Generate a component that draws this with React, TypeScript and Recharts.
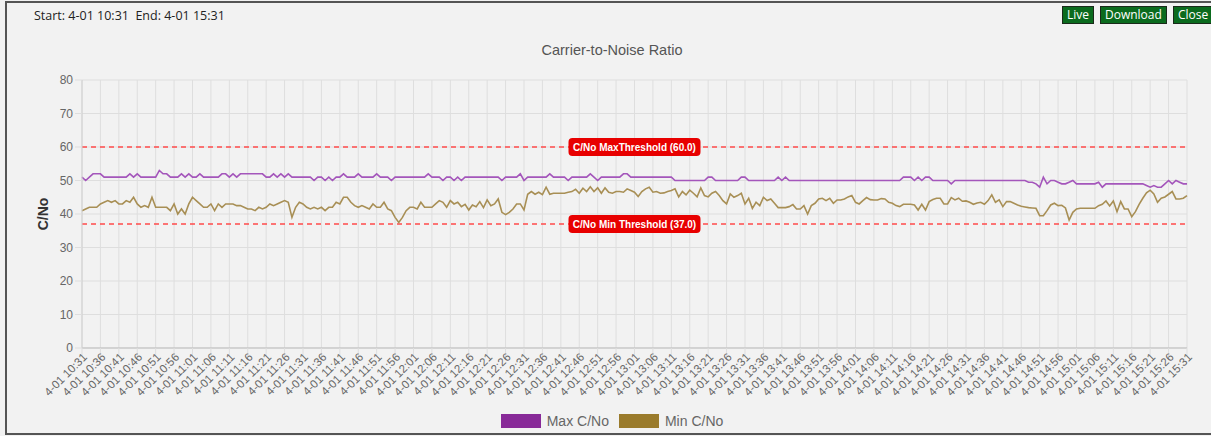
import React from 'react'
import { LineChart, Line, XAxis, YAxis, CartesianGrid, ReferenceLine } from 'recharts'

// one label every 5 minutes, data every minute
const tickLabels = [
  '4-01 10:31', '4-01 10:36', '4-01 10:41', '4-01 10:46', '4-01 10:51', '4-01 10:56',
  '4-01 11:01', '4-01 11:06', '4-01 11:11', '4-01 11:16', '4-01 11:21', '4-01 11:26',
  '4-01 11:31', '4-01 11:36', '4-01 11:41', '4-01 11:46', '4-01 11:51', '4-01 11:56',
  '4-01 12:01', '4-01 12:06', '4-01 12:11', '4-01 12:16', '4-01 12:21', '4-01 12:26',
  '4-01 12:31', '4-01 12:36', '4-01 12:41', '4-01 12:46', '4-01 12:51', '4-01 12:56',
  '4-01 13:01', '4-01 13:06', '4-01 13:11', '4-01 13:16', '4-01 13:21', '4-01 13:26',
  '4-01 13:31', '4-01 13:36', '4-01 13:41', '4-01 13:46', '4-01 13:51', '4-01 13:56',
  '4-01 14:01', '4-01 14:06', '4-01 14:11', '4-01 14:16', '4-01 14:21', '4-01 14:26',
  '4-01 14:31', '4-01 14:36', '4-01 14:41', '4-01 14:46', '4-01 14:51', '4-01 14:56',
  '4-01 15:01', '4-01 15:06', '4-01 15:11', '4-01 15:16', '4-01 15:21', '4-01 15:26',
  '4-01 15:31',
]

const yTicks = [0, 10, 20, 30, 40, 50, 60, 70, 80]

const maxCno = [
  51, 50, 51, 52, 52, 52, 51, 51, 51, 51,
  51, 51, 51, 52, 51, 52, 51, 51, 51, 51,
  51, 53, 52, 52, 51, 51, 51, 52, 51, 52,
  51, 51, 52, 51, 51, 51, 51, 51, 52, 52,
  51, 52, 51, 52, 52, 52, 52, 52, 52, 52,
  51, 51, 52, 51, 52, 51, 52, 51, 51, 51,
  51, 51, 51, 50, 51, 51, 50, 51, 50, 51,
  51, 52, 51, 51, 51, 52, 51, 51, 51, 51,
  52, 51, 51, 51, 50, 51, 51, 51, 51, 51,
  51, 51, 51, 51, 52, 51, 51, 51, 50, 51,
  51, 50, 51, 50, 51, 51, 51, 51, 51, 51,
  51, 51, 51, 51, 50, 51, 51, 51, 51, 52,
  50, 51, 51, 51, 51, 51, 51, 52, 51, 51,
  51, 51, 50, 51, 51, 51, 51, 51, 52, 51,
  50, 51, 51, 51, 51, 51, 51, 52, 52, 51,
  51, 51, 51, 51, 51, 51, 51, 51, 51, 51,
  51, 50, 50, 50, 50, 50, 50, 50, 50, 50,
  51, 51, 50, 50, 50, 50, 50, 50, 50, 51,
  51, 50, 50, 50, 50, 50, 50, 50, 50, 51,
  50, 51, 50, 50, 50, 50, 50, 50, 50, 50,
  50, 50, 50, 50, 50, 50, 50, 50, 50, 50,
  50, 50, 50, 50, 50, 50, 50, 50, 50, 50,
  50, 50, 50, 51, 51, 51, 50, 51, 50, 51,
  51, 50, 50, 50, 50, 50, 49, 50, 50, 50,
  50, 50, 50, 50, 50, 50, 50, 50, 50, 50,
  50, 50, 50, 50, 50, 50, 50, 49.5, 49.5, 49,
  48, 51, 49, 50, 50, 49.5, 49, 49, 49.5, 50,
  49, 49, 49, 49, 49, 49, 49.5, 48, 49, 49,
  49, 49, 49, 49, 49, 49, 49, 49, 49, 48.5,
  48, 48.5, 48, 48, 49, 50, 49, 50, 49.5, 49,
  49,
]

const minCno = [
  41, 41.5, 42, 42, 42, 43, 43.5, 44, 43.5, 44,
  43, 43, 44, 43.5, 45, 43, 42, 42.5, 42, 45,
  42, 42, 42, 42, 41, 43, 40, 41.5, 40, 43,
  45, 44, 43, 42, 42, 43, 41, 43, 42, 43,
  43, 43, 42.5, 42.5, 42, 41.5, 41.5, 41, 42, 41.5,
  42, 43, 42.5, 43, 43.5, 44, 43.5, 39, 42, 43.5,
  43, 42, 41.5, 42, 41.5, 42, 41, 42, 42, 43.5,
  43, 45, 45, 43.5, 42.5, 42, 42.5, 42, 41.5, 43,
  42, 42, 43.5, 41.5, 41, 39, 37.5, 39, 41, 42,
  42, 41.5, 43.5, 42, 42, 42, 43, 44, 43.5, 42,
  44, 43, 43.5, 42.2, 42.9, 41.2, 42.7, 42.2, 43.7, 41.9,
  44.2, 42.5, 43, 44.5, 40.5, 39.8, 40.5, 41.5, 43, 43,
  41.2, 45.9, 46.7, 45.9, 46.5, 45.8, 48, 45.9, 46.2, 46.2,
  46.2, 46.2, 46.5, 46.7, 47.4, 46.2, 47.7, 46.7, 48.1, 46.7,
  47.8, 46.2, 47.8, 46.5, 46.2, 46.7, 46.7, 46.5, 47.5, 47,
  46.5, 45.2, 46.7, 47.5, 48, 46.5, 46.7, 46.2, 46.3, 46.7,
  47, 47.5, 45.1, 46.7, 45.7, 47.1, 46.2, 45.1, 47.8, 45.5,
  45.1, 46.2, 46.7, 45.5, 44, 43, 46, 45, 45.5, 46.2,
  43, 44.7, 41.7, 43.5, 42.5, 45, 44, 44.5, 43.2, 41.9,
  41.9, 41.9, 42.2, 42.8, 41.5, 41.5, 42.5, 40, 42.5, 43.2,
  44.5, 44.7, 44, 44.7, 43.2, 44.2, 44.2, 44.5, 45.1, 45.5,
  43.5, 43, 44, 44.9, 44.3, 44.2, 44.2, 44.6, 44.5, 43.5,
  43.2, 42.5, 42.2, 42.9, 42.9, 42.9, 42.7, 41.2, 42.9, 41.2,
  43.7, 44.3, 44.7, 44.7, 43, 43, 44.9, 44.2, 44.7, 43.8,
  43.9, 43.5, 42.9, 43.3, 43.5, 42.9, 44, 45.7, 43.5, 44.2,
  42.2, 43.7, 43.7, 43.2, 42.7, 42.3, 42.1, 41.9, 41.8, 41.7,
  39.5, 39.5, 41, 42.7, 43.2, 42.5, 42.6, 41.8, 38.2, 40.5,
  41.5, 41.7, 41.7, 41.7, 41.7, 41.7, 42.5, 42.9, 43.9, 42.4,
  43.9, 40.7, 43.7, 41.5, 41.5, 39.2, 40.7, 42.9, 44.7, 46.3,
  47.1, 46, 43.5, 44.7, 45.1, 45.9, 46.7, 44.5, 44.5, 44.7,
  45.5,
]

const thresholds = [
  { value: 60, label: 'C/No MaxThreshold (60.0)' },
  { value: 37, label: 'C/No Min Threshold (37.0)' },
]

const series = [
  { key: 'max', name: 'Max C/No', stroke: '#a456bb', fill: '#882a98' },
  { key: 'min', name: 'Min C/No', stroke: '#a88f55', fill: '#9a7b2c' },
]

const data = maxCno.map((v, i) => ({ minute: i, max: v, min: minCno[i] }))
const tickPositions = tickLabels.map((_, i) => i * 5)

const FONT = "'Liberation Sans', Arial, sans-serif"
const UI_FONT = "'Open Sans', sans-serif"

function TimeTick({ x, y, payload }: any) {
  return (
    <g transform={`translate(${x + 3},${y - 3})`}>
      <text textAnchor="end" transform="rotate(-45)" fontSize={11.5} fill="#666" fontFamily={FONT} dy={4}>
        {tickLabels[Math.round(payload.value / 5)]}
      </text>
    </g>
  )
}

function ThresholdLabel({ viewBox, text }: any) {
  const cx = viewBox.x + viewBox.width / 2
  const cy = viewBox.y
  return (
    <g>
      <rect x={cx - 66} y={cy - 9} width={132} height={18} rx={4} fill="#e80000" />
      <text x={cx} y={cy} dy={3.5} textAnchor="middle" fontSize={10} fontWeight="bold" fill="#fff" fontFamily={FONT}>
        {text}
      </text>
    </g>
  )
}

const btn: React.CSSProperties = {
  position: 'absolute',
  top: 6,
  height: 18,
  boxSizing: 'border-box',
  background: '#0b6b1e',
  border: '1px solid #1a2a1a',
  color: '#fff',
  fontSize: 12,
  lineHeight: '16px',
  padding: '0 4px',
  fontFamily: UI_FONT,
}

export default function App() {
  return (
    <div style={{ position: 'absolute', left: 0, top: 0, width: 1211, height: 436, background: '#f2f2f2', overflow: 'hidden' }}>
      <div style={{ position: 'absolute', left: 5, top: 1, width: 1220, height: 434, boxSizing: 'border-box', border: '2px solid #555' }} />
      <div style={{ position: 'absolute', left: 34, top: 7, fontSize: 12.5, color: '#222', fontFamily: UI_FONT }}>
        Start: 4-01 10:31&nbsp;&nbsp;End: 4-01 15:31
      </div>
      <div style={{ ...btn, left: 1062 }}>Live</div>
      <div style={{ ...btn, left: 1100 }}>Download</div>
      <div style={{ ...btn, left: 1173 }}>Close</div>
      <div style={{ position: 'absolute', left: 0, width: 1224, top: 42, textAlign: 'center', fontSize: 14.5, color: '#555', fontFamily: FONT }}>
        Carrier-to-Noise Ratio
      </div>
      <div style={{ position: 'absolute', left: 43, top: 214, transform: 'translate(-50%,-50%) rotate(-90deg)', fontSize: 14, fontWeight: 'bold', color: '#333', fontFamily: FONT }}>
        C/No
      </div>
      <div style={{ position: 'absolute', left: 0, top: 0 }}>
        <LineChart width={1211} height={436} data={data} margin={{ top: 80, right: 24, bottom: 8, left: 42 }}>
          <CartesianGrid stroke="#dedede" />
          <XAxis
            type="number"
            dataKey="minute"
            domain={[0, 300]}
            ticks={tickPositions}
            interval={0}
            height={80}
            tickSize={8}
            tickLine={{ stroke: '#dedede' }}
            axisLine={{ stroke: '#bdbdbd' }}
            tick={<TimeTick />}
          />
          <YAxis
            domain={[0, 80]}
            ticks={yTicks}
            width={40}
            tickSize={7}
            tickMargin={2}
            tickLine={{ stroke: '#dedede' }}
            axisLine={{ stroke: '#d0d0d0' }}
            tick={{ fontSize: 12, fill: '#666', fontFamily: FONT }}
          />
          {thresholds.map((t) => (
            <ReferenceLine
              key={t.value}
              y={t.value}
              stroke="#ff4b4b"
              strokeWidth={1.5}
              strokeDasharray="5 4"
              label={<ThresholdLabel text={t.label} />}
            />
          ))}
          {series.map((s) => (
            <Line
              key={s.key}
              type="linear"
              dataKey={s.key}
              name={s.name}
              stroke={s.stroke}
              strokeWidth={1.6}
              dot={false}
              isAnimationActive={false}
            />
          ))}
        </LineChart>
      </div>
      <div style={{ position: 'absolute', top: 413, left: 0, width: 1224, display: 'flex', justifyContent: 'center', fontFamily: FONT, fontSize: 14, color: '#666' }}>
        {series.map((s) => (
          <div key={s.key} style={{ display: 'flex', alignItems: 'center', margin: '0 5px' }}>
            <span style={{ display: 'inline-block', width: 40, height: 14, background: s.fill, marginRight: 6 }} />
            <span>{s.name}</span>
          </div>
        ))}
      </div>
    </div>
  )
}
